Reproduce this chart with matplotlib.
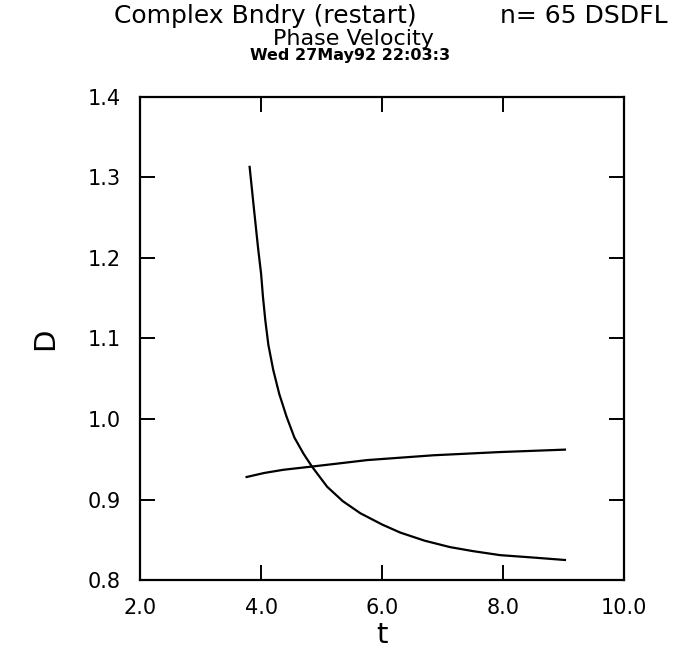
import numpy as np
import matplotlib
matplotlib.use('Agg')
import matplotlib.pyplot as plt

# curve values
t_decay = [3.81, 3.88, 3.95, 4.00, 4.03, 4.07, 4.12, 4.20, 4.30, 4.42,
           4.55, 4.70, 4.84, 5.09, 5.35, 5.64, 6.00, 6.30, 6.70, 7.12,
           7.50, 7.95, 8.50, 9.02]
d_decay = [1.313, 1.262, 1.212, 1.180, 1.152, 1.122, 1.092, 1.061, 1.031,
           1.003, 0.977, 0.957, 0.941, 0.916, 0.898, 0.883, 0.869, 0.859,
           0.849, 0.841, 0.836, 0.831, 0.828, 0.825]

t_rise = [3.76, 4.05, 4.37, 4.84, 5.30, 5.75, 6.30, 6.85, 7.40, 7.95, 9.02]
d_rise = [0.928, 0.933, 0.937, 0.941, 0.945, 0.949, 0.952, 0.955, 0.957,
          0.959, 0.962]

x_ticks = [2.0, 4.0, 6.0, 8.0, 10.0]
y_ticks = [0.8, 0.9, 1.0, 1.1, 1.2, 1.3, 1.4]

plt.rcParams['font.family'] = ['DejaVu Sans']

fig = plt.figure(figsize=(6.8, 6.63), dpi=100)
ax = fig.add_axes([0.206, 0.125, 0.712, 0.729])

ax.plot(t_decay, d_decay, color='black', lw=1.6)
ax.plot(t_rise, d_rise, color='black', lw=1.6)

ax.set_xlim(2.0, 10.0)
ax.set_ylim(0.8, 1.4)

ax.set_xticks(x_ticks)
ax.set_yticks(y_ticks)
ax.set_xticklabels(['%.1f' % v for v in x_ticks])
ax.set_yticklabels(['%.1f' % v for v in y_ticks])

ax.tick_params(direction='in', length=11, width=1.4, labelsize=15,
               top=True, right=True, pad=14, color='black')
ax.tick_params(axis='x', pad=13)

for s in ax.spines.values():
    s.set_linewidth(1.6)

ax.set_xlabel('t', fontsize=21, labelpad=2)
ax.set_ylabel('D', fontsize=21, labelpad=20)

fig.text(0.168, 0.966, 'Complex Bndry (restart)', fontsize=18,
         ha='left', va='baseline')
fig.text(0.982, 0.966, 'n= 65 DSDFL', fontsize=18, ha='right',
         va='baseline')
fig.text(0.52, 0.932, 'Phase Velocity', fontsize=16, ha='center',
         va='baseline')
fig.text(0.515, 0.909, 'Wed 27May92 22:03:3', fontsize=11.5,
         fontweight='bold', ha='center', va='baseline')

fig.savefig('out.png', dpi=100)
